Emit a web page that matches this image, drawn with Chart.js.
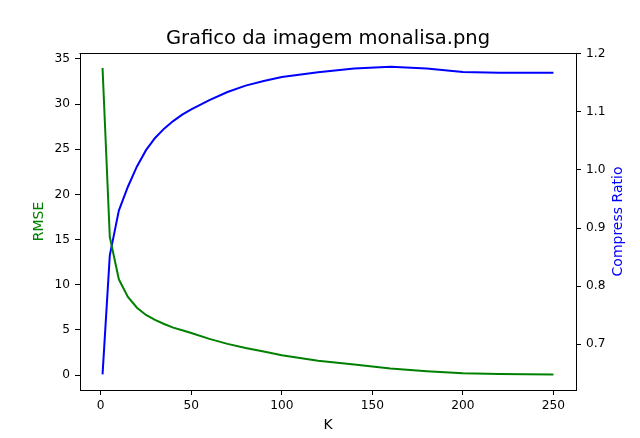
<!DOCTYPE html>
<html>
<head>
<meta charset="utf-8">
<script src="https://cdn.jsdelivr.net/npm/chart.js@4/dist/chart.umd.min.js"></script>
<style>
  html, body { margin: 0; padding: 0; background: #fff; }
  #wrap { width: 640px; height: 438px; }
</style>
</head>
<body>
<div id="wrap"><canvas id="c" width="640" height="438"></canvas></div>
<script>
const titleText = 'Grafico da imagem monalisa.png';
const xLabel = 'K';
const leftLabel = 'RMSE';
const rightLabel = 'Compress Ratio';

const kValues = [1, 5, 10, 15, 20, 25, 30, 35, 40, 45, 50, 60, 70, 80, 90, 100, 120, 140, 160, 180, 200, 220, 250];
const rmseValues = [34.0, 15.3, 10.6, 8.65, 7.45, 6.65, 6.1, 5.65, 5.25, 4.95, 4.65, 4.0, 3.45, 3.0, 2.6, 2.2, 1.58, 1.17, 0.72, 0.42, 0.2, 0.12, 0.06];
const ratioValues = [0.648, 0.853, 0.930, 0.971, 1.006, 1.034, 1.055, 1.071, 1.084, 1.095, 1.104, 1.120, 1.134, 1.145, 1.153, 1.160, 1.168, 1.1745, 1.1776, 1.1747, 1.1684, 1.1672, 1.167];

const xTicks = [0, 50, 100, 150, 200, 250];
const leftTicks = [0, 5, 10, 15, 20, 25, 30, 35];
const rightTicks = [0.7, 0.8, 0.9, 1.0, 1.1, 1.2];

const FONT = 'DejaVu Sans';
const TICK_SIZE = 12.2;
const LABEL_SIZE = 14;
const TITLE_SIZE = 19.5;

const frame = {
  id: 'frame',
  afterDraw(chart) {
    const {ctx, chartArea: a} = chart;
    ctx.save();
    ctx.strokeStyle = '#000';
    ctx.lineWidth = 1;
    ctx.beginPath();
    ctx.moveTo(Math.round(a.left) - 0.5, Math.round(a.top) + 0.5);
    ctx.lineTo(Math.round(a.right) + 0.5, Math.round(a.top) + 0.5);
    ctx.stroke();
    ctx.textAlign = 'center';
    ctx.textBaseline = 'middle';
    ctx.fillStyle = '#000';
    ctx.font = TITLE_SIZE + 'px "' + FONT + '"';
    ctx.fillText(titleText, (a.left + a.right) / 2, 38.5);
    ctx.fillStyle = 'blue';
    ctx.font = LABEL_SIZE + 'px "' + FONT + '"';
    ctx.translate(618.5, (a.top + a.bottom) / 2);
    ctx.rotate(-Math.PI / 2);
    ctx.fillText(rightLabel, 0, 0);
    ctx.restore();
  }
};

function fixedTicks(list) {
  return function(scale) { scale.ticks = list.map(v => ({value: v})); };
}

const tickFont = {family: FONT, size: TICK_SIZE};
const labelFont = {family: FONT, size: LABEL_SIZE, lineHeight: 1.2};

new Chart(document.getElementById('c'), {
  type: 'line',
  data: {
    datasets: [
      {
        label: leftLabel,
        data: kValues.map((k, i) => ({x: k, y: rmseValues[i]})),
        borderColor: 'green',
        backgroundColor: 'green',
        borderWidth: 2,
        pointRadius: 0,
        tension: 0,
        yAxisID: 'y'
      },
      {
        label: rightLabel,
        data: kValues.map((k, i) => ({x: k, y: ratioValues[i]})),
        borderColor: 'blue',
        backgroundColor: 'blue',
        borderWidth: 2,
        pointRadius: 0,
        tension: 0,
        yAxisID: 'y1'
      }
    ]
  },
  options: {
    responsive: false,
    animation: false,
    devicePixelRatio: 1,
    layout: {padding: {top: 53, left: 0, right: 0, bottom: 0}},
    plugins: {
      legend: {display: false},
      tooltip: {enabled: false},
      title: {display: false}
    },
    scales: {
      x: {
        type: 'linear',
        min: -11.45,
        max: 262.45,
        afterBuildTicks: fixedTicks(xTicks),
        afterFit(s) { s.height = 48; },
        grid: {drawOnChartArea: false, drawTicks: true, tickLength: 5, tickColor: '#000', tickWidth: 1},
        border: {display: true, color: '#000', width: 1},
        ticks: {color: '#000', font: tickFont, padding: 4, autoSkip: false, maxRotation: 0},
        title: {display: true, text: xLabel, color: '#000', font: labelFont, padding: {top: 0, bottom: 4.6}}
      },
      y: {
        type: 'linear',
        position: 'left',
        min: -1.66,
        max: 35.66,
        afterBuildTicks: fixedTicks(leftTicks),
        afterFit(s) { s.width = 80; },
        grid: {drawOnChartArea: false, drawTicks: true, tickLength: 5, tickColor: '#000', tickWidth: 1},
        border: {display: true, color: '#000', width: 1},
        ticks: {color: '#000', font: tickFont, padding: 5, autoSkip: false},
        title: {display: true, text: leftLabel, color: 'green', font: labelFont, padding: {top: 30.6, bottom: 0}}
      },
      y1: {
        type: 'linear',
        position: 'right',
        min: 0.6212,
        max: 1.2012,
        afterBuildTicks: fixedTicks(rightTicks),
        afterFit(s) { s.width = 64; },
        grid: {drawOnChartArea: false, drawTicks: true, tickLength: 5, tickColor: '#000', tickWidth: 1},
        border: {display: true, color: '#000', width: 1},
        ticks: {color: '#000', font: tickFont, padding: 5, autoSkip: false, callback: v => v.toFixed(1)}
      }
    }
  },
  plugins: [frame]
});
</script>
</body>
</html>
